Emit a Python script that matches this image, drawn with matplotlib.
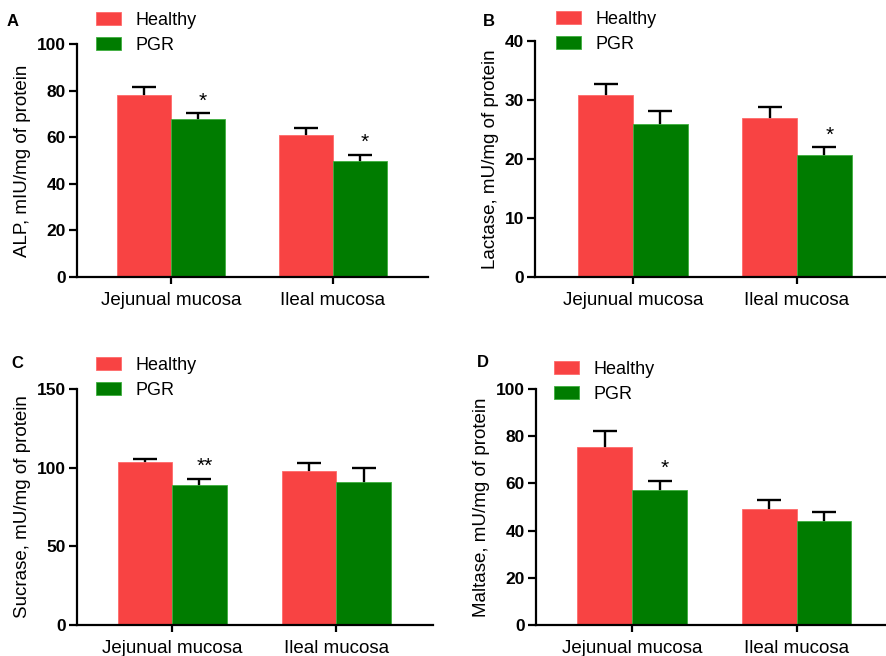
import numpy as np
import matplotlib.pyplot as plt

plt.rcParams['font.family'] = ['Liberation Sans', 'DejaVu Sans']

categories = ['Jejunual mucosa', 'Ileal mucosa']
groups = ['Healthy', 'PGR']

# panel A: ALP
alp_healthy = [78.1, 61.1]
alp_healthy_err = [3.6, 3.0]
alp_pgr = [67.8, 49.9]
alp_pgr_err = [2.5, 2.5]
alp_stars = ['*', '*']

# panel B: lactase
lac_healthy = [30.8, 26.9]
lac_healthy_err = [1.9, 1.9]
lac_pgr = [25.9, 20.6]
lac_pgr_err = [2.2, 1.4]
lac_stars = ['', '*']

# panel C: sucrase
suc_healthy = [103.6, 97.8]
suc_healthy_err = [1.6, 5.1]
suc_pgr = [88.7, 91.2]
suc_pgr_err = [4.4, 8.3]
suc_stars = ['**', '']

# panel D: maltase
mal_healthy = [75.6, 49.1]
mal_healthy_err = [6.6, 3.8]
mal_pgr = [57.0, 44.0]
mal_pgr_err = [4.2, 3.8]
mal_stars = ['*', '']

red = '#F84343'
green = '#007C00'

W, H = 887, 656
fig = plt.figure(figsize=(W / 100, H / 100), dpi=100)


def px_box(left, right, top, bottom):
    return [left / W, 1 - bottom / H, (right - left) / W, (bottom - top) / H]


def panel(box, xlim, ymax, ystep, healthy, h_err, pgr, p_err, stars,
          ylabel, letter, letter_xy, legend_xy):
    ax = fig.add_axes(px_box(*box))
    x = np.arange(len(categories))
    w = 0.333
    ax.bar(x - w / 2, healthy, w, color=red, edgecolor='#FF6A6A', linewidth=0.6,
           label=groups[0], zorder=2)
    ax.bar(x + w / 2, pgr, w, color=green, edgecolor='#3FAF3F', linewidth=0.6,
           label=groups[1], zorder=2)
    # error bars sit behind the bars, so only the upper half shows
    ekw = dict(fmt='none', ecolor='black', elinewidth=1.7, capsize=8.5,
               capthick=1.7, zorder=1)
    ax.errorbar(x - w / 2, healthy, yerr=h_err, **ekw)
    ax.errorbar(x + w / 2, pgr, yerr=p_err, **ekw)
    for xi, v, e, s in zip(x, pgr, p_err, stars):
        if s:
            ax.annotate(s, (xi + w / 2 + 0.03, v + e), xytext=(0, 2),
                        textcoords='offset points', ha='center', va='bottom',
                        fontsize=15)
    ax.set_xlim(*xlim)
    ax.set_ylim(0, ymax)
    ax.set_yticks(np.arange(0, ymax + 1, ystep))
    ax.set_xticks(x)
    ax.set_xticklabels(categories, fontsize=13.5)
    for lab in ax.get_yticklabels():
        lab.set_fontweight('bold')
        lab.set_fontsize(12.5)
    ax.set_ylabel(ylabel, fontsize=13.5, labelpad=4)
    for side in ['top', 'right']:
        ax.spines[side].set_visible(False)
    for side in ['left', 'bottom']:
        ax.spines[side].set_linewidth(1.6)
    ax.tick_params(axis='y', length=6, width=1.6, pad=2)
    ax.tick_params(axis='x', length=5, width=1.6, pad=6)
    fig.text(letter_xy[0] / W, 1 - letter_xy[1] / H, letter, fontsize=12,
             fontweight='bold', ha='center', va='center')
    ax.legend(loc='upper left', bbox_to_anchor=(legend_xy[0] / W, 1 - legend_xy[1] / H),
              bbox_transform=fig.transFigure, frameon=False, fontsize=13,
              handlelength=1.4, handleheight=0.7, handletextpad=0.8,
              labelspacing=0.42, borderpad=0, borderaxespad=0)
    return ax


panel((77, 428, 44, 277), (-0.58, 1.586), 100, 20,
      alp_healthy, alp_healthy_err, alp_pgr, alp_pgr_err, alp_stars,
      'ALP, mIU/mg of protein', 'A', (13, 22), (96, 12))
panel((535, 887, 41, 277), (-0.598, 1.549), 40, 10,
      lac_healthy, lac_healthy_err, lac_pgr, lac_pgr_err, lac_stars,
      'Lactase, mU/mg of protein', 'B', (489, 22), (556, 11))
panel((77, 433, 389, 625), (-0.58, 1.59), 150, 50,
      suc_healthy, suc_healthy_err, suc_pgr, suc_pgr_err, suc_stars,
      'Sucrase, mU/mg of protein', 'C', (17, 363), (96, 357))
panel((536, 887, 389, 625), (-0.585, 1.55), 100, 20,
      mal_healthy, mal_healthy_err, mal_pgr, mal_pgr_err, mal_stars,
      'Maltase, mU/mg of protein', 'D', (483, 362), (554, 361))

fig.savefig('out.png', dpi=100)
